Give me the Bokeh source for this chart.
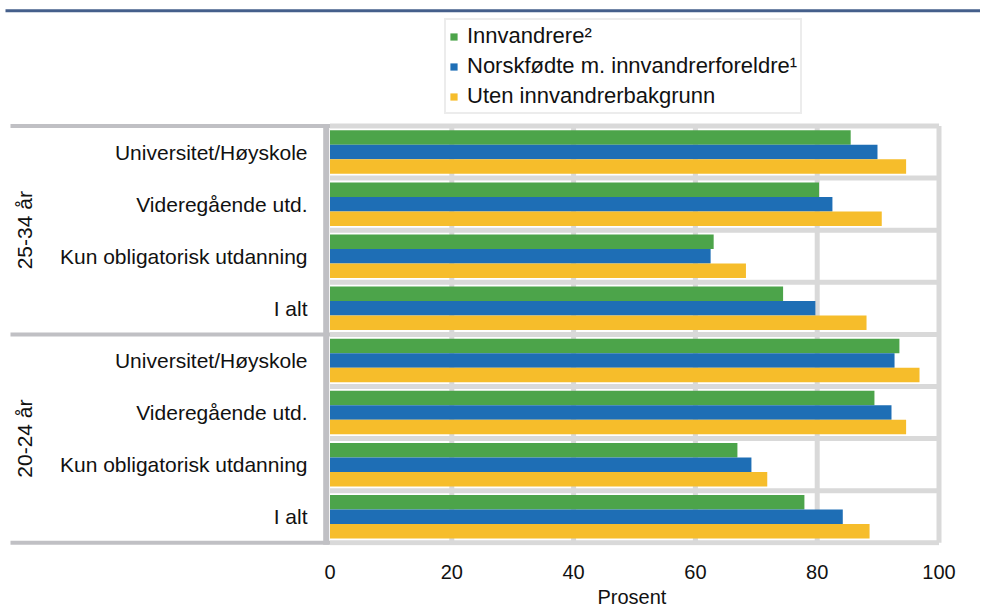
import numpy as np
from bokeh.plotting import figure
from bokeh.models import Range1d, FixedTicker, Legend, LegendItem, Title
from bokeh.core.properties import value
from bokeh.embed import file_html
from bokeh.resources import INLINE

# ---------------- data ----------------
age_groups = ["25-34 år", "20-24 år"]
levels = ["Universitet/Høyskole", "Videregående utd.", "Kun obligatorisk utdanning", "I alt"]
innvandrere = [85.5, 80.3, 63.0, 74.4, 93.5, 89.4, 66.9, 77.9]
norskfodte = [89.9, 82.5, 62.5, 79.7, 92.7, 92.2, 69.2, 84.2]
uten = [94.6, 90.6, 68.3, 88.1, 96.8, 94.6, 71.8, 88.6]
series_names = ["Innvandrere²", "Norskfødte m. innvandrerforeldre¹", "Uten innvandrerbakgrunn"]
series_colors = ["#4ca44a", "#1e6eb5", "#f6bd2b"]
x_ticks = [0, 20, 40, 60, 80, 100]
x_label = "Prosent"

# ---------------- layout constants ----------------
FRAME_W, FRAME_H = 980, 545
PX_UNIT = 6.09          # px per percent
ZERO_PX = 329.5         # canvas x of value 0
ROW_PX = 52.1           # px per category row
BOTTOM_PAD = 2.7        # px below the bottom border line
FONT = "Liberation Sans"
FS = "20px"
FS_CAT = "21px"
TXT = "#111111"
LIGHT = "#d9d9d9"
DARK = "#c0c0c4"

x_start = -ZERO_PX / PX_UNIT
x_end = x_start + FRAME_W / PX_UNIT
y_start = -BOTTOM_PAD / ROW_PX
y_end = y_start + FRAME_H / ROW_PX

n_rows = len(age_groups) * len(levels)
row_y = np.array([n_rows - i - 0.5 for i in range(n_rows)])
row_labels = levels * len(age_groups)
bar_h = 14.5 / ROW_PX
offsets = [bar_h, 0.0, -bar_h]

def px_to_x(px):
    return (px - ZERO_PX) / PX_UNIT

p = figure(frame_width=FRAME_W, frame_height=FRAME_H,
           x_range=Range1d(x_start, x_end), y_range=Range1d(y_start, y_end),
           output_backend="svg", toolbar_location=None, y_axis_location=None,
           min_border_left=0, min_border_right=0, min_border_top=0, min_border_bottom=0)
p.outline_line_color = None
p.xgrid.visible = False
p.ygrid.visible = False
p.background_fill_color = "white"
p.border_fill_color = "white"

# top rule
top_rule_y = y_end - 10.3 / ROW_PX
p.segment(x0=[px_to_x(5)], x1=[x_end], y0=[top_rule_y], y1=[top_rule_y],
          line_color="#455f8b", line_width=3)

# vertical grid lines (from tick list)
grid_x = [t for t in x_ticks if t > 0]
p.segment(x0=grid_x, x1=grid_x, y0=[0] * len(grid_x), y1=[n_rows] * len(grid_x),
          line_color=LIGHT, line_width=5)
# horizontal row separators in plot area
sep_y = list(range(n_rows + 1))
p.segment(x0=[0] * len(sep_y), x1=[x_ticks[-1]] * len(sep_y), y0=sep_y, y1=sep_y,
          line_color=LIGHT, line_width=5)

# bars
series = [innvandrere, norskfodte, uten]
renderers = []
for vals, col, off in zip(series, series_colors, offsets):
    r = p.hbar(y=row_y + off, left=0, right=vals, height=bar_h,
               fill_color=col, line_color=None)
    renderers.append(r)

# group separators in label area + axis line
grp_y = [0, len(levels), n_rows]
p.segment(x0=[px_to_x(10)] * len(grp_y), x1=[0] * len(grp_y), y0=grp_y, y1=grp_y,
          line_color=DARK, line_width=4)
axis_x = px_to_x(325.7)
p.segment(x0=[axis_x], x1=[axis_x], y0=[0 - 2.0 / ROW_PX], y1=[n_rows + 2.0 / ROW_PX],
          line_color=DARK, line_width=6)

# category labels
p.text(x=[px_to_x(307)] * n_rows, y=row_y, text=row_labels,
       text_align="right", text_baseline="middle",
       text_font=value(FONT), text_font_size=value(FS_CAT), text_color=TXT)
# age group labels (rotated)
grp_centers = [n_rows - len(levels) * (k + 0.5) for k in range(len(age_groups))]
p.text(x=[px_to_x(23.5)] * len(age_groups), y=grp_centers, text=age_groups,
       angle=np.pi / 2, text_align="center", text_baseline="middle",
       text_font=value(FONT), text_font_size=value(FS_CAT), text_color=TXT)

# x axis
ax = p.xaxis[0]
ax.ticker = FixedTicker(ticks=x_ticks)
ax.bounds = (0, 100)
ax.axis_line_color = None
ax.major_tick_line_color = None
ax.minor_tick_line_color = None
ax.major_label_text_font = FONT
ax.major_label_text_font_size = FS
ax.major_label_text_color = TXT
ax.major_label_standoff = 13

# axis title centred under the 0-100 scale (left-aligned title shifted to centre)
p.add_layout(Title(text=x_label, align="left", offset=597, standoff=4,
                   text_font=FONT, text_font_size=FS, text_font_style="normal",
                   text_color=TXT), "below")

# legend
legend = Legend(items=[LegendItem(label=n, renderers=[r]) for n, r in zip(series_names, renderers)],
                location=(444, FRAME_H - 114))
legend.label_text_font = FONT
legend.label_text_font_size = "22px"
legend.label_text_color = TXT
legend.glyph_width = 9
legend.glyph_height = 9
legend.label_standoff = 9
legend.label_height = 20
legend.spacing = 4
legend.padding = 3
legend.margin = 0
legend.border_line_color = LIGHT
legend.border_line_width = 2
legend.background_fill_color = "white"
legend.background_fill_alpha = 1.0
p.add_layout(legend, "center")

open("out.html", "w").write(file_html(p, INLINE))
